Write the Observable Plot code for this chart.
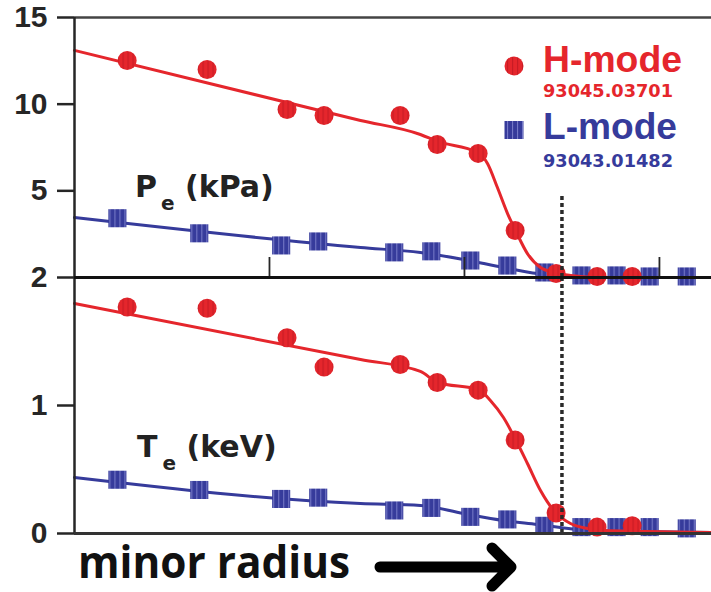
<!DOCTYPE html>
<html>
<head>
<meta charset="utf-8">
<script src="https://cdn.jsdelivr.net/npm/d3@7"></script>
<script src="https://cdn.jsdelivr.net/npm/@observablehq/plot@0.6"></script>
<style>
  html, body { margin: 0; padding: 0; background: #fff; }
  #wrap { position: relative; width: 711px; height: 592px; overflow: hidden; background: #fff; }
  #wrap > svg { position: absolute; left: 0; top: 0; }
  #wrap > svg text { font-weight: bold; }
</style>
</head>
<body>
<div id="wrap"></div>
<script>
// ---------- data (normalized minor radius) ----------
const xDomain = [0.7, 1.0267];
const xTicks = [0.8, 0.9, 1.0];
const separatrix = [0.95];
const sepTopPe = 4.85;

// H-mode 93045.03701 measurements
const hRadius = [0.727, 0.768, 0.809, 0.828, 0.867, 0.886, 0.907, 0.926, 0.947, 0.968, 0.986];
const hPe     = [12.52, 12.00, 9.69, 9.35, 9.35, 7.67, 7.16, 2.71, 0.23, 0.06, 0.06];
const hTe     = [1.77, 1.76, 1.53, 1.30, 1.32, 1.18, 1.12, 0.73, 0.16, 0.05, 0.06];

// L-mode 93043.01482 measurements
const lRadius = [0.722, 0.764, 0.806, 0.825, 0.864, 0.883, 0.903, 0.922, 0.941, 0.960, 0.978, 0.995, 1.014];
const lPe     = [3.42, 2.55, 1.85, 2.08, 1.45, 1.51, 0.98, 0.69, 0.29, 0.12, 0.12, 0.06, 0.06];
const lTe     = [0.42, 0.34, 0.27, 0.28, 0.18, 0.20, 0.13, 0.11, 0.06, 0.05, 0.05, 0.05, 0.04];

// fitted profiles
const hPeFitR = [0.700, 0.8467, 0.8774, 0.8862, 0.9067, 0.9118, 0.9169, 0.9221, 0.9262, 0.9323, 0.9390, 0.9456, 0.9544, 0.9697, 1.0267];
const hPeFit  = [13.10, 9.06, 8.25, 7.85, 7.21, 6.58, 5.19, 3.69, 2.71, 1.38, 0.58, 0.29, 0.12, 0.0, 0.0];
const hTeFitR = [0.700, 0.8467, 0.8774, 0.8862, 0.9072, 0.9133, 0.9200, 0.9262, 0.9323, 0.9390, 0.9467, 0.9544, 0.9631, 0.9697, 1.0267];
const hTeFit  = [1.797, 1.359, 1.266, 1.18, 1.125, 1.039, 0.906, 0.734, 0.547, 0.336, 0.164, 0.078, 0.039, 0.023, 0.008];
const lPeFitR = [0.700, 0.8467, 0.8774, 0.8995, 0.9200, 0.9374, 0.9492, 0.9697, 1.0267];
const lPeFit  = [3.46, 1.73, 1.44, 1.04, 0.58, 0.23, 0.12, 0.0, 0.0];
const lTeFitR = [0.700, 0.8467, 0.8774, 0.8995, 0.9200, 0.9374, 0.9492, 0.9631, 1.0267];
const lTeFit  = [0.4375, 0.234, 0.219, 0.156, 0.102, 0.070, 0.047, 0.023, 0.008];

const yTicksPe = [5, 10, 15];
const yTicksTe = [0, 1, 2];

// ---------- tables ----------
const hmode = hRadius.map((r, i) => ({r, pe: hPe[i], te: hTe[i]}));
const lmode = lRadius.map((r, i) => ({r, pe: lPe[i], te: lTe[i]}));
const hPeLine = hPeFitR.map((r, i) => ({r, v: hPeFit[i]}));
const hTeLine = hTeFitR.map((r, i) => ({r, v: hTeFit[i]}));
const lPeLine = lPeFitR.map((r, i) => ({r, v: lPeFit[i]}));
const lTeLine = lTeFitR.map((r, i) => ({r, v: lTeFit[i]}));

const RED = "#e5262c", BLUE = "#363b9b", AX = "#262626";
const W = 711, H = 592;

const common = {
  width: W, height: H,
  marginLeft: 74, marginRight: 0,
  x: {domain: xDomain, axis: null},
  style: {background: "transparent", overflow: "visible", fontFamily: "'Liberation Sans', Arial, sans-serif", fontWeight: "bold"}
};
const axisOpts = {tickSize: 17, tickPadding: 10, fontSize: 30, fontWeight: "bold", color: AX, strokeWidth: 2.5, label: null, tickFormat: d3.format("d")};

const pePlot = Plot.plot({
  ...common,
  marginTop: 17, marginBottom: H - 277,
  y: {domain: [0, 15], axis: null},
  marks: [
    Plot.line(lPeLine, {x: "r", y: "v", stroke: BLUE, strokeWidth: 3, curve: "monotone-x"}),
    Plot.dot(lmode, {x: "r", y: "pe", symbol: "square", r: 10.2, fill: "url(#sqpat)", stroke: "none"}),
    Plot.line(hPeLine, {x: "r", y: "v", stroke: RED, strokeWidth: 3, curve: "monotone-x"}),
    Plot.dot(hmode, {x: "r", y: "pe", r: 9.5, fill: "url(#cipat)", stroke: "none"}),
    Plot.ruleX(separatrix, {y1: 0, y2: sepTopPe, stroke: "#2a2a2a", strokeWidth: 3.5, strokeDasharray: "4,3"}),
    Plot.ruleX(xTicks, {insetTop: 240, stroke: AX, strokeWidth: 1.8}),
    Plot.ruleY([yTicksPe[2]], {stroke: "#444", strokeWidth: 2.5}),
    Plot.ruleX([xDomain[0]], {stroke: AX, strokeWidth: 2.5}),
    Plot.axisY(yTicksPe, axisOpts)
  ]
});

const tePlot = Plot.plot({
  ...common,
  marginTop: 277, marginBottom: H - 533,
  y: {domain: [0, 2], axis: null},
  marks: [
    Plot.line(lTeLine, {x: "r", y: "v", stroke: BLUE, strokeWidth: 3, curve: "monotone-x"}),
    Plot.dot(lmode, {x: "r", y: "te", symbol: "square", r: 10.2, fill: "url(#sqpat)", stroke: "none"}),
    Plot.line(hTeLine, {x: "r", y: "v", stroke: RED, strokeWidth: 3, curve: "monotone-x"}),
    Plot.dot(hmode, {x: "r", y: "te", r: 9.5, fill: "url(#cipat)", stroke: "none"}),
    Plot.ruleX(separatrix, {stroke: "#2a2a2a", strokeWidth: 3.5, strokeDasharray: "4,3"}),
    Plot.ruleX([xDomain[0]], {stroke: AX, strokeWidth: 2.5}),
    Plot.ruleY([yTicksTe[2]], {stroke: "#111", strokeWidth: 3}),
    Plot.ruleY([yTicksTe[0]], {stroke: "#333", strokeWidth: 3}),
    Plot.axisY(yTicksTe, axisOpts)
  ]
});

const wrap = document.getElementById("wrap");
wrap.appendChild(pePlot);
wrap.appendChild(tePlot);

// ---------- annotations overlay ----------
const ov = d3.select(wrap).append("svg")
  .attr("width", W).attr("height", H)
  .style("overflow", "visible");

const defs = ov.append("defs");
const cp = defs.append("pattern").attr("id", "cipat").attr("patternUnits", "userSpaceOnUse")
  .attr("width", 5).attr("height", 5);
cp.append("rect").attr("width", 5).attr("height", 5).attr("fill", RED);
cp.append("rect").attr("x", 2).attr("width", 1.2).attr("height", 5).attr("fill", "#c81c24");
const sp = defs.append("pattern").attr("id", "sqpat").attr("patternUnits", "userSpaceOnUse")
  .attr("width", 5).attr("height", 9);
sp.append("rect").attr("width", 5).attr("height", 9).attr("fill", BLUE);
sp.append("rect").attr("x", 2).attr("width", 1.1).attr("height", 9).attr("fill", "#7478c6");

// panel labels
const lab = (x, y, main, dxSub, rest) => {
  const t = ov.append("text").attr("x", x).attr("y", y)
    .attr("font-family", "'DejaVu Sans', sans-serif").attr("font-weight", "bold")
    .attr("font-size", 30).attr("fill", "#222");
  t.append("tspan").text(main);
  t.append("tspan").attr("dx", dxSub).attr("dy", 13).attr("font-size", 20).text("e");
  t.append("tspan").attr("dy", -13).text(rest);
};
lab(135, 197, "P", 4, " (kPa)");
lab(137, 457, "T", 5, " (keV)");

// legend
ov.append("circle").attr("cx", 514).attr("cy", 66).attr("r", 9.5).attr("fill", "url(#cipat)");
ov.append("rect").attr("x", 504.5).attr("y", 121).attr("width", 19).attr("height", 18).attr("fill", "url(#sqpat)");
const ltxt = (x, y, s, size, fam, color, len) => ov.append("text").attr("x", x).attr("y", y)
  .attr("font-family", fam).attr("font-weight", "bold").attr("font-size", size)
  .attr("fill", color).attr("textLength", len).attr("lengthAdjust", "spacingAndGlyphs").text(s);
ltxt(543, 72, "H-mode", 36, "'Liberation Sans', Arial, sans-serif", RED, 139);
ltxt(543, 97, "93045.03701", 18, "'DejaVu Sans', sans-serif", RED, 130);
ltxt(543, 139, "L-mode", 36, "'Liberation Sans', Arial, sans-serif", BLUE, 134);
ltxt(543, 167, "93043.01482", 18, "'DejaVu Sans', sans-serif", BLUE, 130);

// x caption
ltxt(78, 578, "minor radius", 44, "'Open Sans', sans-serif", "#111", 272);
ov.append("path").attr("d", "M380,567 H510 M492,548 L511,567 L492,586")
  .attr("fill", "none").attr("stroke", "#000").attr("stroke-width", 11)
  .attr("stroke-linecap", "round").attr("stroke-linejoin", "round");
</script>
</body>
</html>
